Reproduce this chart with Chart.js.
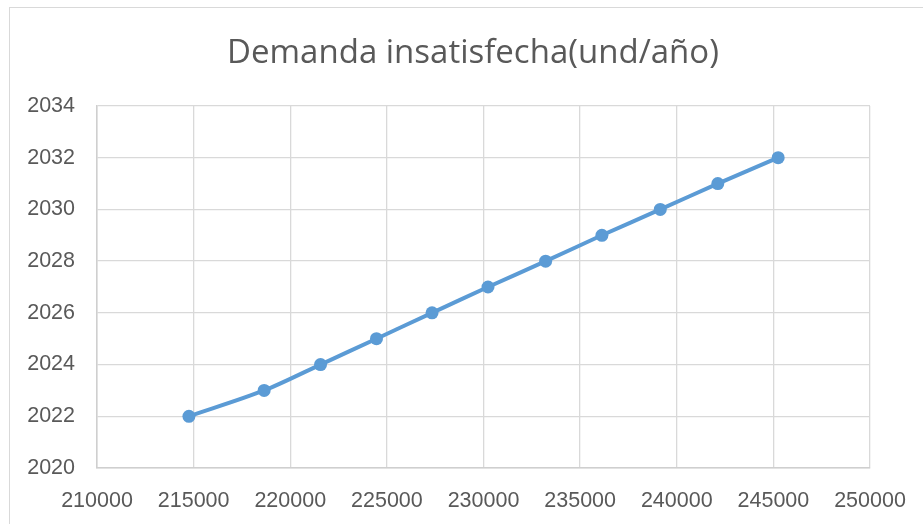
<!DOCTYPE html>
<html>
<head>
<meta charset="utf-8">
<script src="https://cdn.jsdelivr.net/npm/chart.js@4/dist/chart.umd.min.js"></script>
<style>
  html, body { margin: 0; padding: 0; background: #ffffff; }
  #wrap { position: relative; width: 923px; height: 524px; overflow: hidden; }
  #frame { position: absolute; left: 9px; top: 7px; width: 1000px; height: 1000px;
           border: 1px solid #d9d9d9; box-sizing: border-box; }
  canvas { position: absolute; left: 0; top: 0; }
</style>
</head>
<body>
<div id="wrap">
  <div id="frame"></div>
  <canvas id="c" width="923" height="524"></canvas>
</div>
<script>
// Unmet demand (units/year) per year
const years = [2022, 2023, 2024, 2025, 2026, 2027, 2028, 2029, 2030, 2031, 2032];
const demand = [214757, 218650, 221567, 224462, 227337, 230233, 233216, 236127, 239147, 242125, 245248];
const xRange = [210000, 250000, 5000];
const yRange = [2020, 2034, 2];
const titleText = 'Demanda insatisfecha(und/año)';

const FONT = '"Liberation Sans", sans-serif';
const TITLE_FONT = '33px "Open Sans", sans-serif';
const TEXT = '#595959';
const GRID = '#d9d9d9';
const BLUE = '#5b9bd5';

const points = demand.map((d, i) => ({ x: d, y: years[i] }));

// Title centred over the whole chart box rather than the plot area
const chartTitle = {
  id: 'chartTitle',
  afterDraw(chart) {
    const ctx = chart.ctx;
    ctx.save();
    ctx.font = TITLE_FONT;
    ctx.fillStyle = TEXT;
    ctx.textAlign = 'center';
    ctx.textBaseline = 'alphabetic';
    ctx.fillText(titleText, 473, 63);
    ctx.restore();
  }
};

new Chart(document.getElementById('c'), {
  type: 'line',
  data: {
    datasets: [{
      data: points,
      borderColor: BLUE,
      backgroundColor: BLUE,
      borderWidth: 4,
      pointRadius: 6.5,
      pointHoverRadius: 6.5,
      pointBorderWidth: 0,
      tension: 0.3,
      fill: false
    }]
  },
  plugins: [chartTitle],
  options: {
    responsive: false,
    animation: false,
    layout: { padding: { left: 0, right: 53, top: 106, bottom: 0 } },
    plugins: {
      legend: { display: false },
      tooltip: { enabled: false },
      title: { display: false }
    },
    scales: {
      x: {
        type: 'linear',
        min: xRange[0], max: xRange[1],
        afterFit: s => { s.height = 56; s.paddingLeft = 0; s.paddingRight = 0; },
        grid: { color: GRID, lineWidth: 1.3, drawTicks: false },
        border: { color: '#cfcfcf', width: 1.5 },
        ticks: {
          stepSize: xRange[2],
          padding: 20,
          color: TEXT,
          font: { family: FONT, size: 21.5 },
          callback: v => String(v)
        }
      },
      y: {
        type: 'linear',
        min: yRange[0], max: yRange[1],
        afterFit: s => { s.width = 97; },
        grid: { color: GRID, lineWidth: 1.3, drawTicks: false },
        border: { color: '#cfcfcf', width: 1.5 },
        ticks: {
          stepSize: yRange[2],
          padding: 22,
          color: TEXT,
          font: { family: FONT, size: 21.5 },
          callback: v => String(v)
        }
      }
    }
  }
});
</script>
</body>
</html>
